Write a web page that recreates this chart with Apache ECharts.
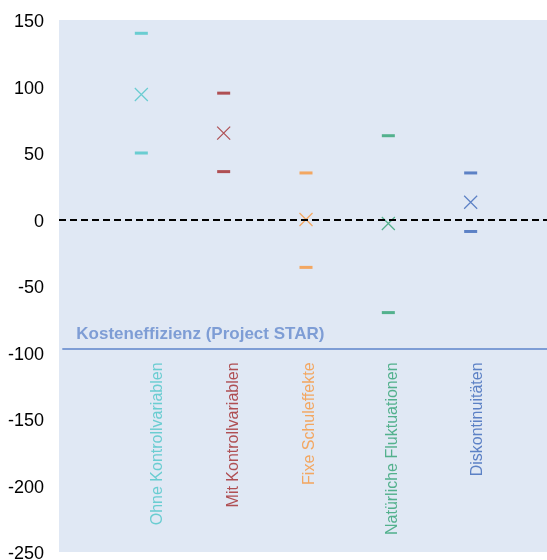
<!DOCTYPE html>
<html>
<head>
<meta charset="utf-8">
<script src="https://cdn.jsdelivr.net/npm/echarts@6/dist/echarts.min.js"></script>
<style>html,body{margin:0;padding:0;background:#fff;}#c{width:547px;height:560px;}</style>
</head>
<body>
<div id="c"></div>
<script>
const categories = ['Ohne Kontrollvariablen','Mit Kontrollvariablen','Fixe Schuleffekte','Natürliche Fluktuationen','Diskontinuitäten'];
const estimates = [94, 65, 0, -3, 13];
const upperBounds = [140, 95, 35, 63, 35];
const lowerBounds = [50, 36, -36, -70, -9];
const benchmarkValue = -97.5;
const benchmarkLabel = 'Kosteneffizienz (Project STAR)';
const yMin = -250, yMax = 150, yStep = 50;

const colors = ['#4cc5c8','#a3282a','#f8963c','#30a273','#3b66b9'];
const labelDx = [16, 10, 4, 4, 7];
const FONT = '"Liberation Sans", Arial, sans-serif';

const chart = echarts.init(document.getElementById('c'), null, {renderer:'canvas'});

const xPath = 'path://M0,0L10,10M10,0L0,10';

const option = {
  animation: false,
  grid: {left: 59, top: 20, width: 494, height: 532, show: true, backgroundColor: '#e0e8f4', borderWidth: 0,
         containLabel: false, outerBoundsMode: 'none'},
  xAxis: {type: 'value', min: 0, max: 6, show: false},
  yAxis: {
    type: 'value', min: yMin, max: yMax, interval: yStep,
    axisLine: {show: false}, axisTick: {show: false}, splitLine: {show: false},
    axisLabel: {
      color: '#000', fontSize: 18, fontFamily: FONT, margin: 15,
      formatter: '{a|{value}}',
      rich: {a: {color: '#000', fontSize: 18, fontFamily: FONT, padding: [5, 0, 0, 0]}}
    }
  },
  series: [
    {
      type: 'scatter', name: 'upper', symbol: 'rect', symbolSize: [13, 3],
      data: upperBounds.map((v, i) => ({value: [i + 1, v], itemStyle: {color: colors[i]}})),
      z: 3
    },
    {
      type: 'scatter', name: 'lower', symbol: 'rect', symbolSize: [13, 3],
      data: lowerBounds.map((v, i) => ({value: [i + 1, v], itemStyle: {color: colors[i]}})),
      z: 3,
      markLine: {
        silent: true, symbol: 'none',
        data: [
          {yAxis: 0, lineStyle: {color: '#000', width: 2, type: [7, 4]}, label: {show: false}},
          [
            {coord: [0.04, benchmarkValue], lineStyle: {color: '#7e9dd5', width: 2, type: 'solid'},
             label: {show: true, position: 'insideStartTop', formatter: benchmarkLabel,
                     color: '#7e9dd5', fontSize: 17, fontWeight: 'bold', fontFamily: FONT, distance: [14, 6]}},
            {coord: [6, benchmarkValue]}
          ]
        ]
      }
    },
    {
      type: 'scatter', name: 'estimate', symbol: xPath, symbolSize: 13,
      data: estimates.map((v, i) => ({value: [i + 1, v], itemStyle: {color: 'none', borderColor: colors[i], borderWidth: 1.2}})),
      z: 4
    },
    {
      type: 'scatter', name: 'labels', symbolSize: 0, silent: true,
      data: categories.map((c, i) => ({
        value: [i + 1, -107.5],
        label: {show: true, formatter: c, color: colors[i], rotate: 90, align: 'right', verticalAlign: 'middle',
                position: 'inside', fontSize: 16, fontFamily: FONT, offset: [0, labelDx[i]]}
      }))
    }
  ]
};
chart.setOption(option);
</script>
</body>
</html>
